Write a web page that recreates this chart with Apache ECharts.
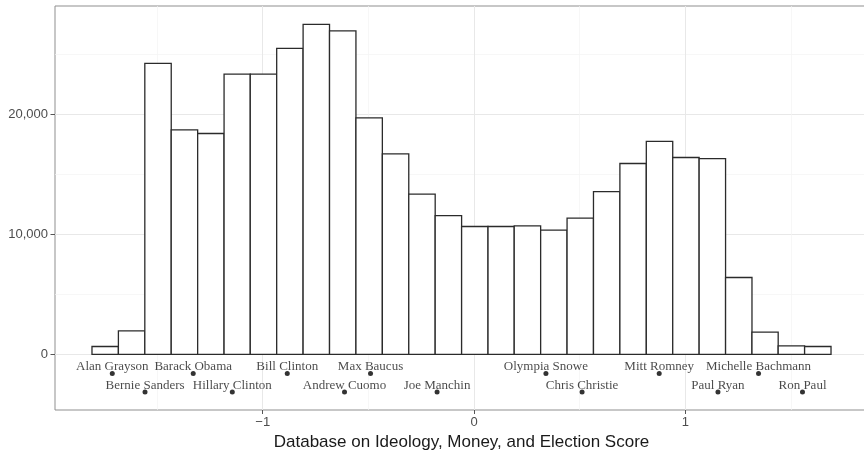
<!DOCTYPE html>
<html>
<head>
<meta charset="utf-8">
<script src="https://cdn.jsdelivr.net/npm/echarts@6/dist/echarts.min.js"></script>
<style>
  html, body { margin: 0; padding: 0; background: #fff; }
  #chart { width: 864px; height: 453px; }
</style>
</head>
<body>
<div id="chart"></div>
<script>
// Histogram of DIME scores: bin edges and counts per bin
const binEdges = [-1.808, -1.683, -1.558, -1.433, -1.308, -1.183, -1.059, -0.934,
  -0.809, -0.684, -0.559, -0.434, -0.309, -0.184, -0.059, 0.066, 0.190, 0.315,
  0.440, 0.565, 0.690, 0.815, 0.940, 1.065, 1.190, 1.315, 1.439, 1.564, 1.689];
const binCounts = [650, 1950, 24250, 18700, 18400, 23350, 23350, 25500, 27500,
  26950, 19700, 16700, 13350, 11550, 10650, 10650, 10700, 10350, 11350, 13550,
  15900, 17750, 16400, 16300, 6400, 1850, 700, 650];

// Reference politicians placed under the histogram
const politicians = ['Alan Grayson', 'Bernie Sanders', 'Barack Obama', 'Hillary Clinton',
  'Bill Clinton', 'Andrew Cuomo', 'Max Baucus', 'Joe Manchin', 'Olympia Snowe',
  'Chris Christie', 'Mitt Romney', 'Paul Ryan', 'Michelle Bachmann', 'Ron Paul'];
const politicianScores = [-1.712, -1.557, -1.329, -1.144, -0.884, -0.613, -0.490,
  -0.175, 0.340, 0.511, 0.876, 1.154, 1.346, 1.554];
const politicianRowY = [-1600, -3150, -1600, -3150, -1600, -3150, -1600, -3150,
  -1600, -3150, -1600, -3150, -1600, -3150];

// Axis ticks
const xMajorTicks = [-1, 0, 1];
const xMinorTicks = [-1.5, -0.5, 0.5, 1.5];
const yMajorTicks = [0, 10000, 20000];
const yMinorTicks = [5000, 15000, 25000];

const X_MIN = -1.983, X_MAX = 1.864;
const Y_MIN = -4640, Y_MAX = 29025;

const bins = binCounts.map((c, i) => [binEdges[i], binEdges[i + 1], c]);
const people = politicians.map((n, i) => [politicianScores[i], politicianRowY[i], n]);

const chart = echarts.init(document.getElementById('chart'), null, { renderer: 'canvas' });

const gridLineMajor = { show: true, lineStyle: { color: '#e8e8e8', width: 1 } };
const gridLineMinor = { show: true, lineStyle: { color: '#f3f3f3', width: 0.7 } };

chart.setOption({
  animation: false,
  backgroundColor: '#ffffff',
  grid: {
    left: 55, right: -4, top: 6, bottom: 43,
    outerBoundsMode: 'none', containLabel: false,
    show: true, borderColor: '#8f8f8f', borderWidth: 1, backgroundColor: 'transparent'
  },
  xAxis: [{
    type: 'value', min: X_MIN, max: X_MAX,
    name: 'Database on Ideology, Money, and Election Score',
    nameLocation: 'middle', nameGap: 23,
    nameTextStyle: { fontFamily: 'Liberation Sans', fontSize: 17, color: '#1a1a1a' },
    axisLine: { show: false, onZero: false },
    axisTick: { show: true, length: 4, customValues: xMajorTicks, lineStyle: { color: '#555' } },
    axisLabel: {
      show: true, customValues: xMajorTicks, margin: 6,
      fontFamily: 'Liberation Sans', fontSize: 13, color: '#4d4d4d',
      formatter: v => (v < 0 ? '\u2212' + Math.abs(v) : String(v))
    },
    splitLine: gridLineMajor
  }, {
    type: 'value', min: X_MIN, max: X_MAX, position: 'bottom',
    axisLine: { show: false, onZero: false },
    axisTick: { show: false, customValues: xMinorTicks },
    axisLabel: { show: false, customValues: xMinorTicks },
    splitLine: gridLineMinor
  }],
  yAxis: [{
    type: 'value', min: Y_MIN, max: Y_MAX,
    axisLine: { show: false, onZero: false },
    axisTick: { show: true, length: 4.5, customValues: yMajorTicks, lineStyle: { color: '#555' } },
    axisLabel: {
      show: true, customValues: yMajorTicks, margin: 7,
      fontFamily: 'Liberation Sans', fontSize: 13, color: '#4d4d4d',
      formatter: v => v.toLocaleString('en-US')
    },
    splitLine: gridLineMajor
  }, {
    type: 'value', min: Y_MIN, max: Y_MAX, position: 'left',
    axisLine: { show: false, onZero: false },
    axisTick: { show: false, customValues: yMinorTicks },
    axisLabel: { show: false, customValues: yMinorTicks },
    splitLine: gridLineMinor
  }],
  series: [{
    type: 'custom',
    xAxisIndex: 0, yAxisIndex: 0,
    z: 3,
    data: bins,
    encode: { x: [0, 1], y: 2 },
    renderItem: (params, api) => {
      const p0 = api.coord([api.value(0), api.value(2)]);
      const p1 = api.coord([api.value(1), 0]);
      return {
        type: 'rect',
        shape: { x: p0[0], y: p0[1], width: p1[0] - p0[0], height: p1[1] - p0[1] },
        style: { fill: '#ffffff', stroke: '#2b2b2b', lineWidth: 1.3 }
      };
    }
  }, {
    type: 'scatter',
    xAxisIndex: 0, yAxisIndex: 0,
    z: 4,
    data: people,
    symbol: 'circle', symbolSize: 5,
    itemStyle: { color: '#000000' },
    label: {
      show: true, position: 'inside', offset: [0, -7],
      formatter: p => p.data[2],
      fontFamily: 'Liberation Serif', fontSize: 13, color: '#1a1a1a'
    }
  }]
});
</script>
</body>
</html>
